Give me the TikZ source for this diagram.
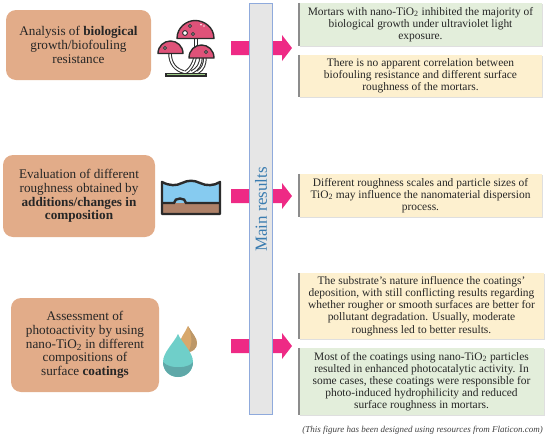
\documentclass[tikz,border=0pt]{standalone}
\usepackage{fontspec}
\setmainfont{Liberation Serif}
\usetikzlibrary{shadows}
\definecolor{topicfill}{HTML}{E2AC89}
\definecolor{barfill}{HTML}{E6E6E6}
\definecolor{barline}{HTML}{8FAADC}
\definecolor{barlabel}{HTML}{3A7CB0}
\definecolor{arrowpink}{HTML}{EE2A85}
\definecolor{resgreen}{HTML}{E3EEDB}
\definecolor{resyellow}{HTML}{FDF0CF}
\definecolor{capred}{HTML}{DF5279}
\definecolor{iconink}{HTML}{2B2B2B}
\definecolor{waterblue}{HTML}{86CBF0}
\definecolor{soilbrown}{HTML}{AE8168}
\definecolor{mossgreen}{HTML}{9CCB86}
\definecolor{dropteal}{HTML}{6FCFC9}
\definecolor{dropshade}{HTML}{5FA8A8}
\definecolor{droptan}{HTML}{D8A86C}
\definecolor{tanshade}{HTML}{BC9768}
\tikzset{
  topicbox/.style={fill=topicfill, rounded corners=10pt, align=center, inner sep=0pt,
    font=\fontsize{13.2}{13.8}\selectfont, text=black!85,
    execute at begin node={\rule{0pt}{14pt}}},
  resultbox/.style={align=center, inner sep=0pt, minimum width=243pt,
    font=\fontsize{11.45}{12.1}\selectfont, text=black!85,
    drop shadow={shadow xshift=0.8pt, shadow yshift=-0.8pt, opacity=0.25},
    execute at begin node={\rule{0pt}{11pt}}},
  resultedge/.style={line width=1.5pt, black!45},
  capshape/.style={fill=capred, draw=iconink, line width=1.4pt, line join=round},
  stemline/.style={draw=iconink, line width=1pt}
}
\begin{document}
\begin{tikzpicture}[x=1pt, y=-1pt]
  \useasboundingbox (0,0) rectangle (550,437);

  % arrows go behind the bar
  \foreach \yv in {48,196,346} {
    \fill[arrowpink] (231,\yv-7) -- (282,\yv-7) -- (282,\yv-13) -- (292,\yv)
      -- (282,\yv+13) -- (282,\yv+7) -- (231,\yv+7) -- cycle;
  }
  \node[draw=barline, fill=barfill, line width=0.7pt, minimum width=23.5pt, minimum height=411pt,
    inner sep=0pt] (mainbar) at (260.75,208.5) {};
  \node[rotate=90, text=barlabel, font=\fontsize{17}{17}\selectfont] (mainlabel)
    at (261,209.5) {Main results};

  % left column
  \node[topicbox, minimum width=145pt, minimum height=70pt] (topicbio) at (78.5,45)
    {Analysis of \textbf{biological}\\ growth/biofouling\\ resistance};
  \node[topicbox, minimum width=152pt, minimum height=82pt] (topicrough) at (79,196)
    {Evaluation of different\\ roughness obtained by\\ \textbf{additions/changes in}\\ \textbf{composition}};
  \node[topicbox, minimum width=148pt, minimum height=94pt] (topiccoat) at (85,345)
    {Assessment of\\ photoactivity by using\\ nano-TiO\textsubscript{2} in different\\ compositions of\\ surface \textbf{coatings}};

  % right column
  \node[resultbox, fill=resgreen, minimum height=43pt] (resbio) at (420.5,24.5)
    {Mortars with nano-TiO\textsubscript{2} inhibited the majority of\\ biological growth under ultraviolet light\\ exposure.};
  \node[resultbox, fill=resyellow, minimum height=42pt] (resfoul) at (420.5,76)
    {There is no apparent correlation between\\ biofouling resistance and different surface\\ roughness of the mortars.};
  \node[resultbox, fill=resyellow, minimum height=43pt] (resscale) at (420.5,195.5)
    {Different roughness scales and particle sizes of\\ TiO\textsubscript{2} may influence the nanomaterial dispersion\\ process.};
  \node[resultbox, fill=resyellow, minimum width=245pt, minimum height=66pt] (ressub) at (421.5,306)
    {The substrate's nature influence the coatings'\\ deposition, with still conflicting results regarding\\ whether rougher or smooth surfaces are better for\\ pollutant degradation. Usually, moderate\\ roughness led to better results.};
  \node[resultbox, fill=resgreen, minimum width=245pt, minimum height=67pt] (resphoto) at (421.5,381.5)
    {Most of the coatings using nano-TiO\textsubscript{2} particles\\ resulted in enhanced photocatalytic activity. In\\ some cases, these coatings were responsible for\\ photo-induced hydrophilicity and reduced\\ surface roughness in mortars.};
  \foreach \res in {resbio,resfoul,resscale,ressub,resphoto} {
    \draw[resultedge] (\res.north west) -- (\res.south west);
  }
  \node[anchor=east, inner sep=0pt, font=\fontsize{9}{10}\selectfont\itshape, text=black!75] (creditnote) at (543,430)
    {(This figure has been designed using resources from Flaticon.com)};

  % mushrooms
  \draw[stemline, double=white, double distance=1.6pt] (170,53) .. controls (170,64) and (176,70) .. (184,72);
  \draw[stemline, double=white, double distance=1.6pt] (196,38) -- (196,48) .. controls (196,60) and (192,68) .. (186,72);
  \draw[stemline, double=white, double distance=1.6pt] (201,57) .. controls (201,64) and (198,69) .. (192,72);
  \draw[stemline, double=white, double distance=1.6pt] (205,57) .. controls (205,64) and (203,69) .. (198,72);
  \fill[iconink] (165,72.5) rectangle (207,76.5);
  \fill[mossgreen] (167,73.5) rectangle (205,75.2);
  \draw[capshape] (177,38.5) .. controls (177,27) and (187,20.5) .. (195,20.5)
    .. controls (204,20.5) and (214,27) .. (214,38.5) -- cycle;
  \draw[capshape] (158,53.5) .. controls (158,46) and (164,41) .. (170.5,41)
    .. controls (177,41) and (183,46) .. (183,53.5) -- cycle;
  \draw[capshape] (189,58) .. controls (189,50) and (195,45) .. (201.5,45)
    .. controls (208,45) and (214,50) .. (214,58) -- cycle;
  \foreach \cx/\cy/\cr in {190/26/1.6, 185/33/2.4, 193/34/1.6, 165/48/1.6, 206/52/1.6} {
    \draw[fill=white, draw=iconink, line width=0.9pt] (\cx,\cy) circle (\cr pt);
  }
  \fill[white!80!capred] (201,24.5) circle (1pt) (204,26) circle (0.8pt);

  % water over rough surface
  \fill[waterblue] (162,183) .. controls (170,186) and (176,186) .. (182,183)
    .. controls (188,180) and (194,180) .. (200,183) .. controls (206,186) and (214,186) .. (220,183)
    -- (220,203) -- (162,203) -- cycle;
  \fill[soilbrown] (162,203) rectangle (220,214);
  \draw[iconink, line width=2.4pt, line join=round] (162,182) .. controls (170,186) and (176,186) .. (182,183)
    .. controls (188,180) and (194,180) .. (200,183) .. controls (206,186) and (214,186) .. (220,182)
    -- (220,214) -- (162,214) -- cycle;
  \draw[iconink, line width=2.4pt] (162,203) -- (174,203) .. controls (174,197) and (186,197) .. (186,203) -- (220,203);

  % drops
  \fill[droptan] (188,326) .. controls (192,333) and (197,338) .. (197,343)
    .. controls (197,349) and (192,352) .. (188,352) .. controls (184,352) and (180,349) .. (180,343)
    .. controls (180,338) and (185,333) .. (188,326) -- cycle;
  \fill[tanshade] (188,326) .. controls (192,333) and (197,338) .. (197,343)
    .. controls (197,349) and (192,352) .. (188,352) .. controls (193,345) and (192,334) .. (188,326) -- cycle;
  \fill[dropteal] (178,334) .. controls (182,343) and (193,352) .. (193,362)
    .. controls (193,371) and (186,377) .. (178,377) .. controls (170,377) and (163,371) .. (163,362)
    .. controls (163,352) and (174,343) .. (178,334) -- cycle;
  \fill[dropshade] (163,362) .. controls (163,371) and (170,377) .. (178,377)
    .. controls (186,377) and (193,371) .. (193,362) .. controls (190,368) and (170,370) .. (163,362) -- cycle;
\end{tikzpicture}
\end{document}
